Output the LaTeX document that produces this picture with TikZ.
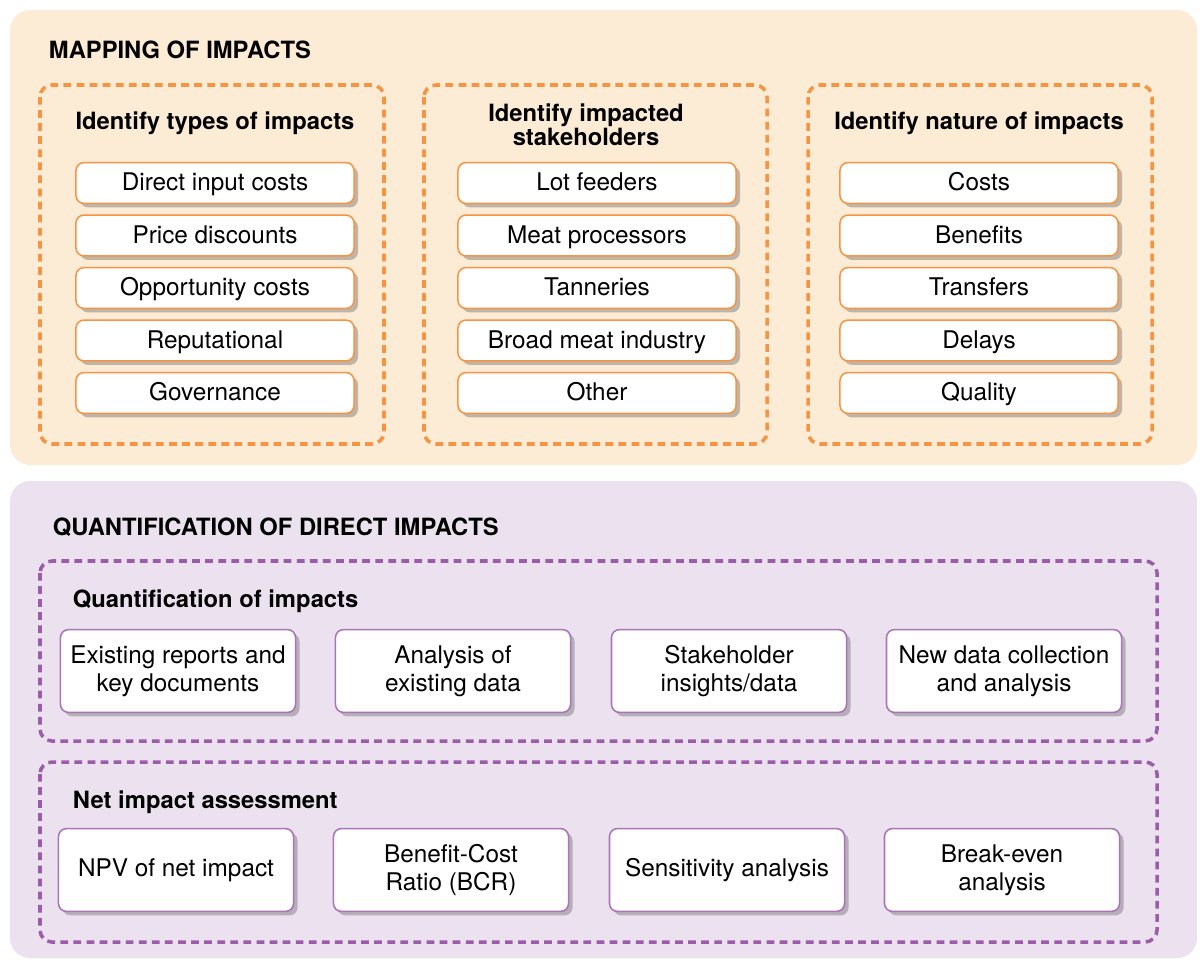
\documentclass[tikz,border=0pt]{standalone}
\usepackage{fontspec}
\setmainfont{TeX Gyre Heros}
\usepackage{xcolor}
\usetikzlibrary{shadows, positioning}
\definecolor{peachbg}{RGB}{253,236,213}
\definecolor{peachline}{RGB}{247,148,68}
\definecolor{lilacbg}{RGB}{236,225,239}
\definecolor{lilacline}{RGB}{155,92,170}

\begin{document}
\begin{tikzpicture}[
    x=0.025cm, y=-0.025cm,
    panel/.style={rounded corners=0.5cm},
    group/.style={draw, line width=2.5pt, dash pattern=on 5.5pt off 3.8pt, rounded corners=0.3cm},
    item/.style={draw=peachline, line width=1.1pt, fill=white, rounded corners=0.2cm,
        minimum width=6.95cm, minimum height=1.02cm, font=\fontsize{17.3}{20}\selectfont,
        text height=13.5pt, text depth=2.5pt,
        drop shadow={shadow xshift=0.1cm, shadow yshift=-0.1cm, fill=black!55, opacity=0.45}},
    task/.style={item, draw=lilacline!85, minimum width=5.875cm, minimum height=2.07cm,
        align=center, text height=, text depth=},
    heading/.style={font=\fontsize{16.9}{20}\selectfont\bfseries, align=center},
    title/.style={heading, anchor=west}
]
    \useasboundingbox (0,0) rectangle (1203,960);

    % Mapping of impacts
    \fill[panel, peachbg] (10,10) rectangle (1197,465);
    \node[title] (maptitle) at (44,50) {MAPPING OF IMPACTS};
    \draw[group, peachline] (40,85) rectangle (384,444);
    \draw[group, peachline] (424,85) rectangle (767,444);
    \draw[group, peachline] (808,85) rectangle (1152,444);
    \node[heading] (typeshead) at (215,123) {Identify types of impacts};
    \node[heading] (stakehead) at (586,125) {Identify impacted\\[-3pt]stakeholders};
    \node[heading] (naturehead) at (979,123) {Identify nature of impacts};

    \foreach \t [count=\i] in {Direct input costs, Price discounts, Opportunity costs, Reputational, Governance} {
        \node[item] (types\i) at (215, {183+52.5*(\i-1)}) {\t};
    }
    \foreach \t [count=\i] in {Lot feeders, Meat processors, Tanneries, Broad meat industry, Other} {
        \node[item] (stake\i) at (597, {183+52.5*(\i-1)}) {\t};
    }
    \foreach \t [count=\i] in {Costs, Benefits, Transfers, Delays, Quality} {
        \node[item] (nature\i) at (979, {183+52.5*(\i-1)}) {\t};
    }

    % Quantification of direct impacts
    \fill[panel, lilacbg] (10,481) rectangle (1197,958);
    \node[title] (quanttitle) at (48,527) {QUANTIFICATION OF DIRECT IMPACTS};
    \draw[group, lilacline] (40,561) rectangle (1157,741);
    \node[title] (quanthead) at (68,601) {Quantification of impacts};
    \draw[group, lilacline] (40,762) rectangle (1157,942);
    \node[title] (nethead) at (68,802) {Net impact assessment};

    \foreach \t/\x [count=\i] in {{Existing reports and\\key documents}/178, {Analysis of\\existing data}/453,
        {Stakeholder\\insights/data}/729, {New data collection\\and analysis}/1004} {
        \node[task] (quant\i) at (\x,671) {\t};
    }
    \foreach \t/\x [count=\i] in {{NPV of net impact}/176, {Benefit-Cost\\Ratio (BCR)}/451,
        {Sensitivity analysis}/727, {Break-even\\analysis}/1002} {
        \node[task] (net\i) at (\x,870) {\t};
    }
\end{tikzpicture}
\end{document}
